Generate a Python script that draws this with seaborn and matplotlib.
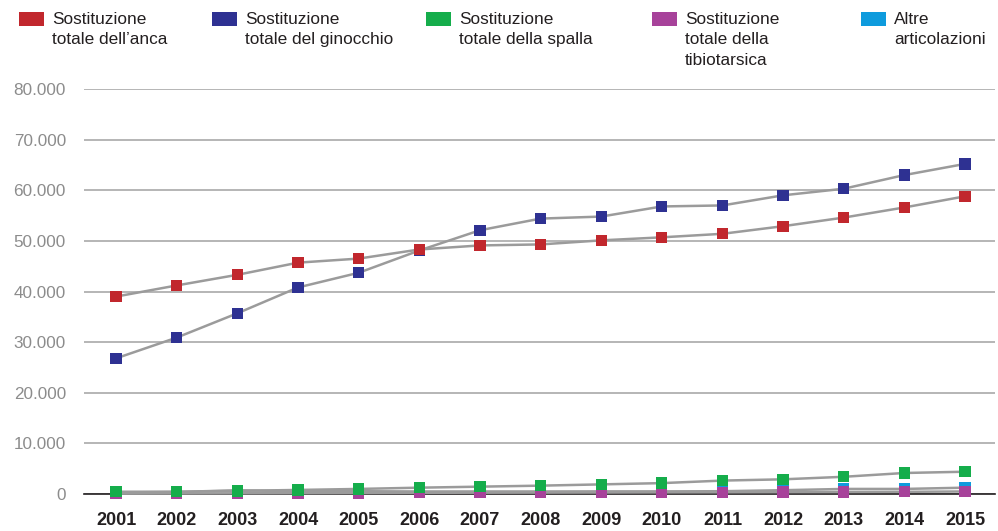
import matplotlib
matplotlib.use("Agg")
import matplotlib.pyplot as plt
from matplotlib import font_manager
from matplotlib.patches import Rectangle
import seaborn as sns
import pandas as pd

years = [2001, 2002, 2003, 2004, 2005, 2006, 2007, 2008, 2009, 2010, 2011, 2012, 2013, 2014, 2015]
anca = [39000, 41200, 43300, 45700, 46500, 48300, 49100, 49300, 50100, 50700, 51400, 52900, 54600, 56600, 58800]
ginocchio = [26800, 30900, 35700, 40800, 43700, 48100, 52100, 54400, 54800, 56800, 57000, 59000, 60300, 63000, 65200]
spalla = [450, 450, 620, 800, 1000, 1250, 1450, 1650, 1900, 2150, 2650, 2900, 3400, 4150, 4400]
tibiotarsica = [60, 100, 140, 170, 200, 230, 260, 280, 300, 330, 350, 380, 400, 430, 500]
altre = [300, 400, 730, 550, 550, 500, 500, 500, 520, 520, 550, 750, 1000, 1000, 1250]

labels = ["Sostituzione\ntotale dell\u2019anca", "Sostituzione\ntotale del ginocchio",
          "Sostituzione\ntotale della spalla", "Sostituzione\ntotale della\ntibiotarsica",
          "Altre\narticolazioni"]
colors = ["#C1272D", "#2E3192", "#15AD4B", "#A7429A", "#0E9BDD"]
ytick_vals = [0, 10000, 20000, 30000, 40000, 50000, 60000, 70000, 80000]
ytick_labels = ["0", "10.000", "20.000", "30.000", "40.000", "50.000", "60.000", "70.000", "80.000"]

avail = {f.name for f in font_manager.fontManager.ttflist}
fam = "Liberation Sans Narrow" if "Liberation Sans Narrow" in avail else "Liberation Sans"
narrow = fam == "Liberation Sans Narrow"

sns.set_theme(style="white")
plt.rcParams["font.family"] = [fam, "DejaVu Sans"]

W, H = 998, 531
fig = plt.figure(figsize=(W / 100, H / 100), dpi=100)
ax = fig.add_axes([84 / W, (H - 494) / H, (995 - 84) / W, (494 - 89) / H])

series = [anca, ginocchio, spalla, tibiotarsica, altre]
frames = []
for lab, vals in zip(labels, series):
    frames.append(pd.DataFrame({"idx": range(len(years)), "val": vals, "serie": lab}))
df = pd.concat(frames, ignore_index=True)

# lines first
for lab in labels:
    sub = df[df["serie"] == lab]
    sns.lineplot(data=sub, x="idx", y="val", ax=ax, color="#9b9b9b", linewidth=1.8,
                 zorder=2, clip_on=False, legend=False)

# markers, drawn in reverse legend order
for lab, col in reversed(list(zip(labels, colors))):
    sub = df[df["serie"] == lab]
    sns.scatterplot(data=sub, x="idx", y="val", ax=ax, color=col, marker="s", s=66,
                    edgecolor="none", linewidth=0, zorder=3, clip_on=False, legend=False)

fs_leg = 14 if narrow else 12.4
fs_y = 13.5 if narrow else 12.3
fs_x = 14.5 if narrow else 13

ax.set_xlim(-0.53, len(years) - 1 + 0.495)
ax.set_ylim(0, 80000)
ax.set_yticks(ytick_vals)
ax.set_yticklabels(ytick_labels, color="#8c8c8c", fontsize=fs_y)
ax.set_xticks(range(len(years)))
ax.set_xticklabels([str(y) for y in years], color="#231f20", fontsize=fs_x, fontweight="bold")
ax.tick_params(axis="y", length=0, pad=13)
ax.tick_params(axis="x", length=0, pad=13)
ax.set_xlabel("")
ax.set_ylabel("")
for sp in ["left", "right", "top"]:
    ax.spines[sp].set_visible(False)
ax.spines["bottom"].set_color("#231f20")
ax.spines["bottom"].set_linewidth(1.2)
ax.spines["bottom"].set_zorder(1)
ax.grid(axis="y", color="#a9a9a9", linewidth=1.2)
ax.grid(axis="x", visible=False)
ax.set_axisbelow(True)

# legend
patch_x = [19, 212, 426, 652, 861]
for px, lab, col in zip(patch_x, labels, colors):
    fig.add_artist(Rectangle((px / W, (H - 26) / H), 25 / W, 13.5 / H,
                             transform=fig.transFigure, facecolor=col, edgecolor="none"))
    fig.text((px + 33) / W, (H - 12) / H, lab, ha="left", va="top", fontsize=fs_leg,
             color="#231f20", linespacing=1.45)

fig.savefig("out.png", dpi=100)
